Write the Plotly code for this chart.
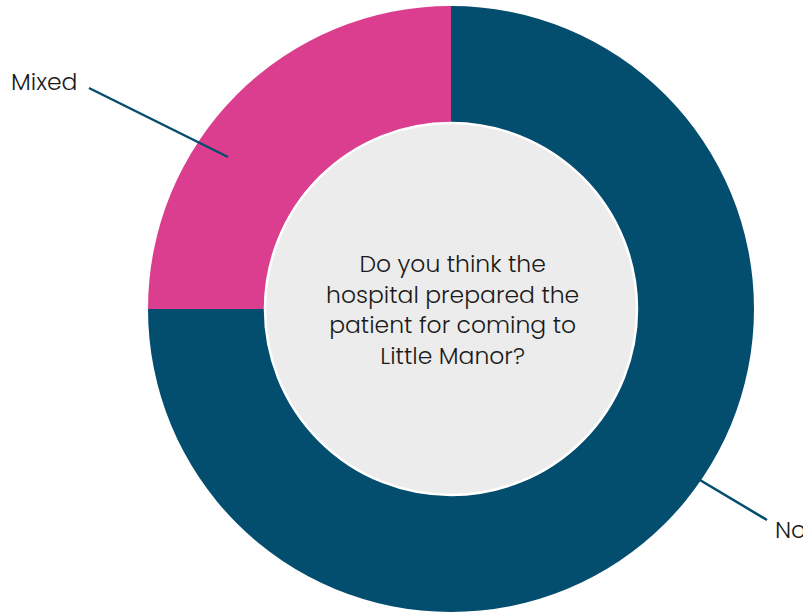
import plotly.graph_objects as go

labels = ["No", "Mixed"]
values = [75, 25]
colors = ["#034D6E", "#DB3E8E"]
question = "Do you think the<br>hospital prepared the<br>patient for coming to<br>Little Manor?"

W, H = 803, 612
cx, cy, R, r_in = 451, 309, 303, 186

def px(x):
    return x / W

def py(y):
    return 1 - y / H

fig = go.Figure(go.Pie(
    labels=labels, values=values, sort=False, direction="clockwise", rotation=0,
    hole=r_in / R, marker=dict(colors=colors, line=dict(width=0)),
    textinfo="none", hoverinfo="label+percent", showlegend=False,
    domain=dict(x=[px(cx - R), px(cx + R)], y=[py(cy + R), py(cy - R)]),
))

fig.add_shape(type="circle", xref="paper", yref="paper",
              x0=px(cx - r_in), x1=px(cx + r_in), y0=py(cy + r_in), y1=py(cy - r_in),
              fillcolor="#ECECEC", line=dict(color="white", width=2.5), layer="above")

fig.add_shape(type="line", xref="paper", yref="paper",
              x0=px(89), y0=py(88), x1=px(228), y1=py(157),
              line=dict(color="#034D6E", width=2.5))
fig.add_shape(type="line", xref="paper", yref="paper",
              x0=px(668), y0=py(461), x1=px(767), y1=py(520),
              line=dict(color="#034D6E", width=2.5))

font = "Poppins, Lato, sans-serif"
fig.add_annotation(x=px(9), y=py(82), xref="paper", yref="paper", text="Mixed",
                   showarrow=False, xanchor="left", yanchor="middle",
                   font=dict(family=font, size=23.5, color="#1a1a1a", weight=300))
fig.add_annotation(x=px(773), y=py(529), xref="paper", yref="paper", text="No",
                   showarrow=False, xanchor="left", yanchor="middle",
                   font=dict(family=font, size=23.5, color="#1a1a1a", weight=300))
fig.add_annotation(x=px(cx + 1), y=py(309), xref="paper", yref="paper", text=question,
                   showarrow=False, xanchor="center", yanchor="middle",
                   font=dict(family=font, size=23.5, color="#1a1a1a", weight=300))

fig.update_layout(width=W, height=H, margin=dict(l=0, r=0, t=0, b=0),
                  paper_bgcolor="white", plot_bgcolor="white")

fig.write_html("out.html")
